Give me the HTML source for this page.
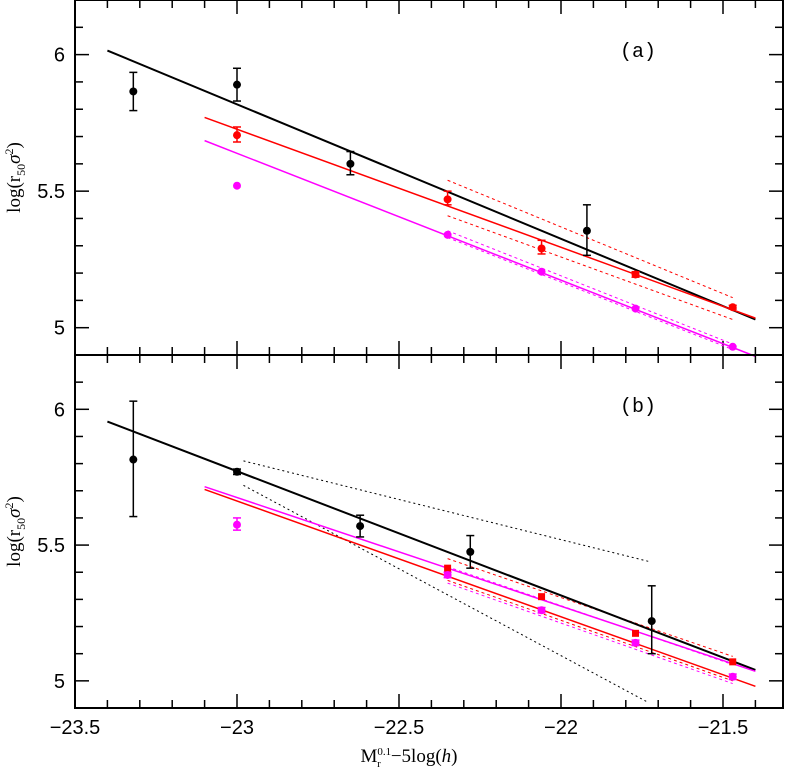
<!DOCTYPE html>
<html><head><meta charset="utf-8"><style>
body{margin:0;background:#fff;}
svg{display:block;font-family:"Liberation Sans",sans-serif;}
</style></head><body>
<svg id="c" width="785" height="767"></svg>
<script>
const xTicks=[-23.5,-23,-22.5,-22,-21.5];
const xTickLabels=["−23.5","−23","−22.5","−22","−21.5"];
const yTicks=[5,5.5,6];
const yTickLabels=["5","5.5","6"];
// panel a
const aBlackX=[-23.32,-23.0,-22.65,-21.92];
const aBlackY=[5.865,5.89,5.60,5.355];
const aBlackLo=[5.795,5.83,5.56,5.265];
const aBlackHi=[5.935,5.95,5.645,5.45];
const aBlackFit=[[-23.4,6.015],[-21.4,5.03]];
const aRedX=[-23.0,-22.35,-22.06,-21.77,-21.47];
const aRedY=[5.705,5.47,5.29,5.195,5.075];
const aRedLo=[5.68,5.45,5.27,5.185,5.068];
const aRedHi=[5.735,5.50,5.32,5.205,5.082];
const aRedFit=[[-23.1,5.77],[-21.4,5.035]];
const aRedBandUp=[[-22.35,5.54],[-21.47,5.11]];
const aRedBandLo=[[-22.35,5.41],[-21.47,5.03]];
const aMagX=[-23.0,-22.35,-22.06,-21.77,-21.47];
const aMagY=[5.52,5.34,5.205,5.07,4.93];
const aMagFit=[[-23.1,5.685],[-21.4,4.895]];
const aMagBandUp=[[-22.35,5.355],[-21.47,4.94]];
const aMagBandLo=[[-22.35,5.33],[-21.47,4.92]];
// panel b
const bBlackX=[-23.32,-23.0,-22.62,-22.28,-21.72];
const bBlackY=[5.815,5.77,5.57,5.475,5.22];
const bBlackLo=[5.605,5.76,5.53,5.415,5.10];
const bBlackHi=[6.03,5.78,5.61,5.535,5.35];
const bBlackFit=[[-23.4,5.955],[-21.4,5.04]];
const bBlackBandUp=[[-22.98,5.81],[-21.73,5.44]];
const bBlackBandLo=[[-22.98,5.72],[-21.73,4.92]];
const bRedX=[-22.35,-22.06,-21.77,-21.47];
const bRedY=[5.415,5.31,5.175,5.07];
const bRedFit=[[-23.1,5.705],[-21.4,4.98]];
const bRedBandUp=[[-22.35,5.45],[-21.47,5.09]];
const bRedBandLo=[[-22.35,5.37],[-21.47,5.00]];
const bMagX=[-23.0,-22.35,-22.06,-21.77,-21.47];
const bMagY=[5.575,5.39,5.26,5.14,5.015];
const bMagLo=[5.555,5.38,5.25,5.13,5.005];
const bMagHi=[5.60,5.40,5.27,5.15,5.025];
const bMagFit=[[-23.1,5.715],[-21.4,5.035]];
const bMagBandUp=[[-22.35,5.42],[-21.47,5.06]];
const bMagBandLo=[[-22.35,5.36],[-21.47,4.99]];

const NS="http://www.w3.org/2000/svg";
const svg=document.getElementById('c');
const L=75,R=783;
const X=v=>L+(v+23.5)*324;
const panels={a:{top:0,bot:355},b:{top:355,bot:708}};
const Yf=p=>v=>panels[p].bot-(v-4.9)*(panels[p].bot-panels[p].top)/1.3;
function el(t,a,name,parent){const e=document.createElementNS(NS,t);for(const k in a)e.setAttribute(k,a[k]);


(parent||svg).appendChild(e);return e;}
function line(pts,Y,col,w,dash,name){el('line',{x1:X(pts[0][0]),y1:Y(pts[0][1]),x2:X(pts[1][0]),y2:Y(pts[1][1]),stroke:col,'stroke-width':w,'stroke-dasharray':dash||'none'},name);}
function pts(xs,ys,Y,col,name,lo,hi,sq){xs.forEach((x,i)=>{
 if(lo){el('line',{x1:X(x),x2:X(x),y1:Y(lo[i]),y2:Y(hi[i]),stroke:col,'stroke-width':1.5},name+'-errorbar');
  [lo[i],hi[i]].forEach(v=>el('line',{x1:X(x)-4,x2:X(x)+4,y1:Y(v),y2:Y(v),stroke:col,'stroke-width':1.5},name+'-errorcap'));}
 if(sq)el('rect',{x:X(x)-3.5,y:Y(ys[i])-3.5,width:7,height:7,fill:col},name+'-point');
 else el('circle',{cx:X(x),cy:Y(ys[i]),r:4,fill:col},name+'-point');});}
function axes(p,label){
 const Y=Yf(p),t=panels[p].top,b=panels[p].bot;
 el('rect',{x:L,y:t,width:R-L,height:b-t,fill:'none',stroke:'#000','stroke-width':2},'panel-'+p+'-frame');
 for(let v=-23.5;v<=-21.35;v+=0.1){const maj=Math.abs(v*2-Math.round(v*2))<1e-6;const len=maj?14:8;
  el('line',{x1:X(v),x2:X(v),y1:b,y2:b-len,stroke:'#000','stroke-width':1.5},'x-tick');
  el('line',{x1:X(v),x2:X(v),y1:t,y2:t+len,stroke:'#000','stroke-width':1.5},'x-tick');}
 for(let v=4.9;v<=6.21;v+=0.1){const maj=Math.abs(v*2-Math.round(v*2))<1e-6;const len=maj?14:8;
  el('line',{x1:L,x2:L+len,y1:Y(v),y2:Y(v),stroke:'#000','stroke-width':1.5},'y-tick');
  el('line',{x1:R,x2:R-len,y1:Y(v),y2:Y(v),stroke:'#000','stroke-width':1.5},'y-tick');}
 yTicks.forEach((v,i)=>{const tx=el('text',{x:L-10,y:Y(v)+7,'text-anchor':'end','font-size':20},'y-tick-label');tx.textContent=yTickLabels[i];});
 const yl=el('text',{x:0,y:0,transform:`translate(20,${(t+b)/2}) rotate(-90)`,'text-anchor':'middle','font-size':19,'font-family':'Liberation Serif, serif'},'y-axis-title');
 yl.innerHTML='log(r<tspan font-size="12" dy="5">50</tspan><tspan dy="-5" font-style="italic">σ</tspan><tspan font-size="12" dy="-7">2</tspan><tspan dy="7">)</tspan>';
 const pl=el('text',{x:638,y:t+57,'text-anchor':'middle','font-size':20,'font-family':'Liberation Mono, monospace'},'panel-label-'+p);pl.textContent=label;
 return Y;}
let Y=axes('a','(a)');
line(aRedBandUp,Y,'red',1,'3,3','a-red-band-upper');line(aRedBandLo,Y,'red',1,'3,3','a-red-band-lower');
line(aMagBandUp,Y,'magenta',1,'3,3','a-magenta-band-upper');line(aMagBandLo,Y,'magenta',1,'3,3','a-magenta-band-lower');
line(aBlackFit,Y,'#000',2,null,'a-black-fit');line(aRedFit,Y,'red',1.5,null,'a-red-fit');line(aMagFit,Y,'magenta',1.5,null,'a-magenta-fit');
pts(aBlackX,aBlackY,Y,'#000','a-black',aBlackLo,aBlackHi);
pts(aRedX,aRedY,Y,'red','a-red',aRedLo,aRedHi);
pts(aMagX,aMagY,Y,'magenta','a-magenta');
Y=axes('b','(b)');
line(bBlackBandUp,Y,'#000',1,'2,3','b-black-band-upper');line(bBlackBandLo,Y,'#000',1,'2,3','b-black-band-lower');
line(bRedBandUp,Y,'red',1,'3,3','b-red-band-upper');line(bRedBandLo,Y,'red',1,'3,3','b-red-band-lower');
line(bMagBandUp,Y,'magenta',1,'3,3','b-magenta-band-upper');line(bMagBandLo,Y,'magenta',1,'3,3','b-magenta-band-lower');
line(bBlackFit,Y,'#000',2,null,'b-black-fit');line(bRedFit,Y,'red',1.5,null,'b-red-fit');line(bMagFit,Y,'magenta',1.5,null,'b-magenta-fit');
pts(bBlackX,bBlackY,Y,'#000','b-black',bBlackLo,bBlackHi);
pts(bRedX,bRedY,Y,'red','b-red',null,null,true);
pts(bMagX,bMagY,Y,'magenta','b-magenta',bMagLo,bMagHi);
xTicks.forEach((v,i)=>{const tx=el('text',{x:X(v),y:734,'text-anchor':'middle','font-size':20},'x-tick-label');tx.textContent=xTickLabels[i];});
const xl=el('text',{x:X(-22.5)+10,y:762,'text-anchor':'middle','font-size':19,'font-family':'Liberation Serif, serif'},'x-axis-title');
xl.innerHTML='M<tspan font-size="11" dy="-7">0.1</tspan><tspan font-size="11" dx="-14" dy="12">r</tspan><tspan dx="10" dy="-5">−5log(</tspan><tspan font-style="italic">h</tspan>)';
</script>
</body></html>
